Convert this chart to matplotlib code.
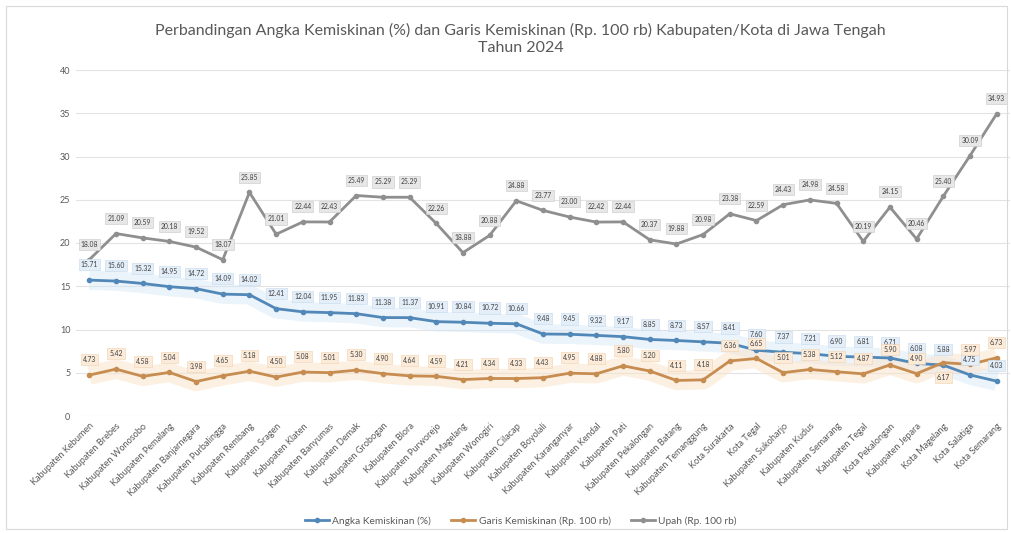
import matplotlib
matplotlib.use("Agg")
import matplotlib.pyplot as plt
from matplotlib.patches import Rectangle

plt.rcParams['font.family'] = ['Lato', 'DejaVu Sans']

categories = [
    "Kabupaten Kebumen", "Kabupaten Brebes", "Kabupaten Wonosobo", "Kabupaten Pemalang",
    "Kabupaten Banjarnegara", "Kabupaten Purbalingga", "Kabupaten Rembang", "Kabupaten Sragen",
    "Kabupaten Klaten", "Kabupaten Banyumas", "Kabupaten Demak", "Kabupaten Grobogan",
    "Kabupaten Blora", "Kabupaten Purworejo", "Kabupaten Magelang", "Kabupaten Wonogiri",
    "Kabupaten Cilacap", "Kabupaten Boyolali", "Kabupaten Karanganyar", "Kabupaten Kendal",
    "Kabupaten Pati", "Kabupaten Pekalongan", "Kabupaten Batang", "Kabupaten Temanggung",
    "Kota Surakarta", "Kota Tegal", "Kabupaten Sukoharjo", "Kabupaten Kudus",
    "Kabupaten Semarang", "Kabupaten Tegal", "Kota Pekalongan", "Kabupaten Jepara",
    "Kota Magelang", "Kota Salatiga", "Kota Semarang",
]

angka_kemiskinan = [
    15.71, 15.60, 15.32, 14.95, 14.72, 14.09, 14.02, 12.41, 12.04, 11.95, 11.83, 11.38,
    11.37, 10.91, 10.84, 10.72, 10.66, 9.48, 9.45, 9.32, 9.17, 8.85, 8.73, 8.57,
    8.41, 7.60, 7.37, 7.21, 6.90, 6.81, 6.71, 6.08, 5.88, 4.75, 4.03,
]

garis_kemiskinan = [
    4.73, 5.42, 4.58, 5.04, 3.98, 4.65, 5.18, 4.50, 5.08, 5.01, 5.30, 4.90,
    4.64, 4.59, 4.21, 4.34, 4.33, 4.43, 4.95, 4.88, 5.80, 5.20, 4.11, 4.18,
    6.36, 6.65, 5.01, 5.38, 5.12, 4.87, 5.90, 4.90, 6.17, 5.97, 6.73,
]

upah = [
    18.08, 21.09, 20.59, 20.18, 19.52, 18.07, 25.85, 21.01, 22.44, 22.43, 25.49, 25.29,
    25.29, 22.26, 18.88, 20.88, 24.88, 23.77, 23.00, 22.42, 22.44, 20.37, 19.88, 20.98,
    23.38, 22.59, 24.43, 24.98, 24.58, 20.19, 24.15, 20.46, 25.40, 30.09, 34.93,
]

series_names = ["Angka Kemiskinan (%)", "Garis Kemiskinan (Rp. 100 rb)", "Upah (Rp. 100 rb)"]
yticks = [0, 5, 10, 15, 20, 25, 30, 35, 40]

title = "Perbandingan Angka Kemiskinan (%) dan Garis Kemiskinan (Rp. 100 rb) Kabupaten/Kota di Jawa Tengah\nTahun 2024"

W, H = 1011, 533
fig = plt.figure(figsize=(W / 100, H / 100), dpi=100)
fig.patch.set_facecolor("white")
fig.add_artist(Rectangle((6 / W, 4 / H), (W - 10) / W, (H - 10) / H, transform=fig.transFigure,
                         fill=False, edgecolor="#d9d9d9", linewidth=0.8))

ax_left, ax_right = 76 / W, 1010 / W
ax_top, ax_bot = 1 - 70 / H, 1 - 416 / H
ax = fig.add_axes([ax_left, ax_bot, ax_right - ax_left, ax_top - ax_bot])

x = list(range(len(categories)))
blue = "#5288b8"
orange = "#c68c50"
gray = "#8f8f8f"

# soft glow bands
ax.plot(x, angka_kemiskinan, color="#d3e6f7", linewidth=14, alpha=0.45, solid_capstyle="butt", zorder=1)
ax.plot(x, garis_kemiskinan, color="#fbe3c8", linewidth=14, alpha=0.5, solid_capstyle="butt", zorder=1)

ax.plot(x, angka_kemiskinan, color=blue, linewidth=2, marker="o", markersize=3, label=series_names[0], zorder=3)
ax.plot(x, garis_kemiskinan, color=orange, linewidth=2, marker="o", markersize=3, label=series_names[1], zorder=3)
ax.plot(x, upah, color=gray, linewidth=2, marker="o", markersize=3, label=series_names[2], zorder=3)

def add_labels(vals, face, edge, below_idx=()):
    for i, v in enumerate(vals):
        off = -11 if i in below_idx else 11
        ax.annotate(f"{v:.2f}", (i, v), xytext=(0, off), textcoords="offset points",
                    ha="center", va="center", fontsize=4.9, color="#404040", zorder=5,
                    bbox=dict(boxstyle="square,pad=0.3", facecolor=face, edgecolor=edge, linewidth=0.4))

add_labels(upah, "#e7e7e7", "#c8c8c8")
add_labels(angka_kemiskinan, "#e3eef9", "#c5d9ee")
add_labels(garis_kemiskinan, "#fcebd9", "#f0d2b0", below_idx=(32,))

ax.set_xlim(-0.5, len(categories) - 0.5)
ax.set_ylim(0, 40)
ax.set_yticks(yticks)
ax.set_yticklabels([str(t) for t in yticks], fontsize=6.5, color="#595959")
ax.set_xticks(x)
ax.set_xticklabels(categories, rotation=45, ha="right", rotation_mode="anchor", fontsize=6.6, color="#595959")
ax.tick_params(axis="both", length=0, pad=4)
ax.grid(axis="y", color="#e3e3e3", linewidth=0.8)
ax.set_axisbelow(True)
for s in ax.spines.values():
    s.set_visible(False)

fig.text(0.515, 1 - 39 / H, title, ha="center", va="center", fontsize=11.5, color="#595959", linespacing=1.3)

fig.legend(loc="center", bbox_to_anchor=(0.515, 1 - 521 / H), ncol=3, frameon=False, fontsize=7.3,
           labelcolor="#595959", handlelength=2.4, handletextpad=0.3, columnspacing=2.0)

fig.savefig("out.png", dpi=100)
